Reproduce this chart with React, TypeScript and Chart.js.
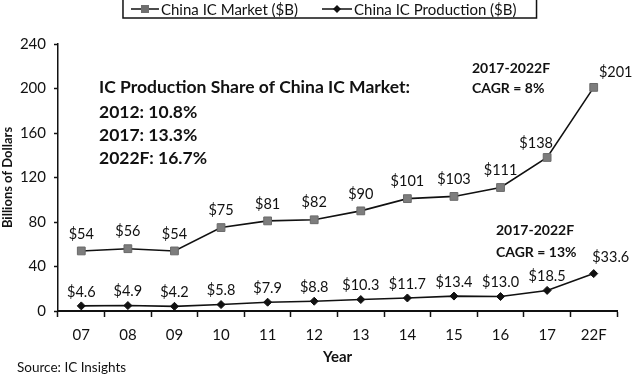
import React, { useEffect, useRef } from 'react';
import { Chart, registerables } from 'chart.js';

Chart.register(...registerables);

const FONT = 'Lato, "Open Sans", sans-serif';
const TEXT = '#111';

const categories = ['07', '08', '09', '10', '11', '12', '13', '14', '15', '16', '17', '22F'];
const marketValues = [54, 56, 54, 75, 81, 82, 90, 101, 103, 111, 138, 201];
const productionValues = [4.6, 4.9, 4.2, 5.8, 7.9, 8.8, 10.3, 11.7, 13.4, 13.0, 18.5, 33.6];
const seriesNames = ['China IC Market ($B)', 'China IC Production ($B)'];
const yMin = 0;
const yMax = 240;
const yStep = 40;

const shareTitle = 'IC Production Share of China IC Market:';
const shareLines = ['2012: 10.8%', '2017: 13.3%', '2022F: 16.7%'];
const cagrMarket = ['2017-2022F', 'CAGR = 8%'];
const cagrProduction = ['2017-2022F', 'CAGR = 13%'];
const sourceText = 'Source: IC Insights';

// label nudges (styling only): [dx, dy]
const marketNudge: Record<number, [number, number]> = { 10: [-11, 3], 11: [22, 2] };
const prodNudge: Record<number, [number, number]> = { 11: [17, -2] };

const overlayPlugin = {
  id: 'overlay',
  afterDatasetsDraw(chart: any) {
    const ctx = chart.ctx as CanvasRenderingContext2D;
    ctx.save();
    ctx.fillStyle = TEXT;
    ctx.textBaseline = 'middle';
    // value labels
    ctx.font = `14.5px ${FONT}`;
    ctx.textAlign = 'center';
    chart.data.datasets.forEach((ds: any, di: number) => {
      const meta = chart.getDatasetMeta(di);
      meta.data.forEach((el: any, i: number) => {
        const v = ds.data[i] as number;
        const text = di === 0 ? `$${v}` : `$${v.toFixed(1)}`;
        const nudge = (di === 0 ? marketNudge : prodNudge)[i] || [0, 0];
        const off = di === 0 ? 17 : 14;
        ctx.fillText(text, el.x + nudge[0], el.y - off + nudge[1]);
      });
    });
    // annotations
    ctx.textAlign = 'left';
    ctx.font = `bold 17.5px ${FONT}`;
    ctx.fillText(shareTitle, 99, 87);
    shareLines.forEach((t, i) => ctx.fillText(t, 99, 112 + i * 23));
    ctx.font = `bold 14px ${FONT}`;
    ctx.fillText(cagrMarket[0], 472, 68);
    ctx.fillText(cagrMarket[1], 472, 88);
    ctx.fillText(cagrProduction[0], 496, 230);
    ctx.fillText(cagrProduction[1], 496, 252);
    // source
    ctx.font = `13.5px ${FONT}`;
    ctx.fillText(sourceText, 17, 368);

    // legend
    ctx.font = `15px ${FONT}`;
    const w1 = ctx.measureText(seriesNames[0]).width;
    const w2 = ctx.measureText(seriesNames[1]).width;
    const ly = 9;
    const t1End = 298;
    const t1Start = t1End - w1;
    const l1a = t1Start - 30;
    const l1b = t1Start - 2;
    const l2a = 322;
    const l2b = 352;
    const t2Start = 354;
    const boxL = l1a - 8;
    const boxR = t2Start + w2 + 20;
    ctx.strokeStyle = '#111';
    ctx.lineWidth = 1.5;
    ctx.strokeRect(boxL, -2, boxR - boxL, 20);
    ctx.lineWidth = 1.6;
    ctx.beginPath();
    ctx.moveTo(l1a, ly);
    ctx.lineTo(l1b, ly);
    ctx.moveTo(l2a, ly);
    ctx.lineTo(l2b, ly);
    ctx.stroke();
    const c1 = (l1a + l1b) / 2;
    ctx.fillStyle = '#6f6f6f';
    ctx.fillRect(c1 - 4, ly - 4, 8, 8);
    const c2 = (l2a + l2b) / 2;
    ctx.fillStyle = '#111';
    ctx.beginPath();
    ctx.moveTo(c2, ly - 4);
    ctx.lineTo(c2 + 4, ly);
    ctx.lineTo(c2, ly + 4);
    ctx.lineTo(c2 - 4, ly);
    ctx.closePath();
    ctx.fill();
    ctx.fillStyle = TEXT;
    ctx.fillText(seriesNames[0], t1Start, ly + 1);
    ctx.fillText(seriesNames[1], t2Start, ly + 1);
    ctx.restore();
  },
};

export default function App() {
  const ref = useRef<HTMLCanvasElement>(null);
  useEffect(() => {
    document.body.style.margin = '0';
    const chart = new Chart(ref.current as HTMLCanvasElement, {
      type: 'line',
      data: {
        labels: categories,
        datasets: [
          {
            label: seriesNames[0],
            data: marketValues,
            borderColor: '#111',
            borderWidth: 1.6,
            pointStyle: 'rect',
            pointRadius: 5.5,
            pointBackgroundColor: '#7d7d7d',
            pointBorderColor: '#6a6a6a',
            pointBorderWidth: 1,
            tension: 0,
          },
          {
            label: seriesNames[1],
            data: productionValues,
            borderColor: '#111',
            borderWidth: 1.6,
            pointStyle: 'rectRot',
            pointRadius: 4,
            pointBackgroundColor: '#111',
            pointBorderColor: '#111',
            pointBorderWidth: 1,
            tension: 0,
          },
        ],
      },
      options: {
        responsive: false,
        animation: false,
        devicePixelRatio: 1,
        layout: { padding: { top: 44, right: 23, bottom: 0, left: 0 } },
        plugins: { legend: { display: false }, tooltip: { enabled: false } },
        scales: {
          x: {
            type: 'category',
            offset: true,
            grid: {
              display: true,
              drawOnChartArea: false,
              drawTicks: true,
              tickLength: 6,
              tickWidth: 1.5,
              tickColor: '#111',
              offset: true,
            },
            border: { display: true, color: '#111', width: 2 },
            ticks: { font: { family: FONT, size: 15 }, color: TEXT, padding: 9, maxRotation: 0 },
            title: {
              display: true,
              text: 'Year',
              color: TEXT,
              font: { family: FONT, size: 15, weight: 'bold' },
              padding: { top: 0, bottom: 14 },
            },
            afterFit: (s: any) => {
              s.height = 69;
            },
          },
          y: {
            min: yMin,
            max: yMax,
            ticks: { stepSize: yStep, font: { family: FONT, size: 15 }, color: TEXT, padding: 8 },
            grid: {
              display: true,
              drawOnChartArea: false,
              drawTicks: true,
              tickLength: 4,
              tickWidth: 1.5,
              tickColor: '#111',
            },
            border: { display: true, color: '#111', width: 1.5 },
            title: {
              display: true,
              text: 'Billions of Dollars',
              color: TEXT,
              font: { family: FONT, size: 13, weight: 'bold' },
              padding: { top: 0, bottom: 0 },
            },
            afterFit: (s: any) => {
              s.width = 58;
            },
          },
        },
      } as any,
      plugins: [overlayPlugin],
    });
    return () => chart.destroy();
  }, []);
  return (
    <div style={{ position: 'absolute', left: 0, top: 0, width: 640, height: 380 }}>
      <canvas ref={ref} width={640} height={380} style={{ width: 640, height: 380 }} />
    </div>
  );
}
